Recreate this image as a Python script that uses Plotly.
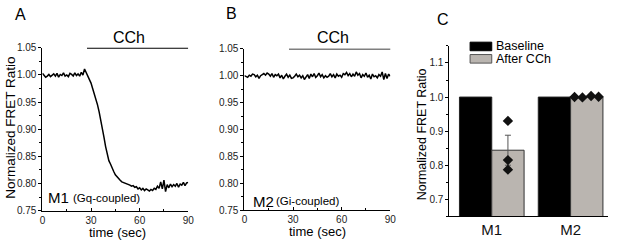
import plotly.graph_objects as go

# ---------------- data ----------------
time_sec = list(range(0, 91))

m1_ratio = [
    1.003, 1.000, 0.996, 0.998, 1.001, 0.997, 0.999, 1.002, 0.998, 1.003,
    0.996, 1.001, 0.999, 1.004, 0.998, 1.000, 0.997, 1.003, 1.001, 0.998,
    1.004, 0.999, 1.002, 0.998, 1.005, 1.000, 1.011, 1.004, 0.997, 0.993,
    0.985, 0.975, 0.966, 0.955, 0.945, 0.932, 0.918, 0.902, 0.885, 0.868,
    0.852, 0.842, 0.836, 0.828, 0.822, 0.816, 0.812, 0.808, 0.806, 0.803,
    0.802, 0.800, 0.799, 0.798, 0.797, 0.795, 0.796, 0.793, 0.794, 0.790,
    0.792, 0.788, 0.791, 0.787, 0.790, 0.788, 0.786, 0.789, 0.787, 0.791,
    0.789, 0.795, 0.791, 0.803, 0.790, 0.806, 0.785, 0.798, 0.792, 0.799,
    0.794, 0.798, 0.795, 0.800, 0.793, 0.799, 0.797, 0.802, 0.796, 0.801,
    0.802,
]

m2_ratio = [
    1.000, 0.998, 0.997, 1.001, 0.999, 1.003, 1.002, 0.998, 1.001, 0.995,
    1.000, 1.002, 1.004, 1.001, 1.005, 1.003, 0.999, 1.004, 0.997, 1.002,
    1.000, 1.003, 0.996, 1.001, 0.994, 0.999, 1.003, 0.997, 1.001, 0.995,
    0.996, 0.999, 1.003, 0.998, 1.001, 0.996, 1.000, 0.993, 0.999, 1.002,
    0.995, 1.003, 0.998, 1.004, 0.997, 1.000, 1.005, 0.998, 1.002, 0.996,
    1.000, 0.997, 0.999, 1.004, 0.998, 1.002, 0.996, 1.003, 0.999, 1.001,
    0.997, 1.004, 1.002, 1.006, 1.000, 1.004, 0.998, 1.003, 0.999, 1.007,
    1.001, 1.004, 0.996, 1.002, 0.999, 1.005, 0.997, 1.001, 0.994, 1.003,
    0.998, 1.000, 0.996, 1.002, 0.999, 1.007, 0.993, 1.004, 0.995, 1.003,
    0.999,
]

cch_start = 27.5
cch_end = 90

receptors = ["M1", "M2"]
baseline_means = [1.0, 1.0]
after_means = [0.844, 1.001]
after_sem = [0.044, 0.001]
m1_after_points = [0.930, 0.815, 0.787]
m2_after_points = [1.000, 0.999, 1.003, 1.001]

y_ticks_trace = [0.75, 0.80, 0.85, 0.90, 0.95, 1.00, 1.05]
x_ticks_trace = [0, 30, 60, 90]
y_ticks_bar = [0.7, 0.8, 0.9, 1.0, 1.1]

# ---------------- layout helpers ----------------
W, H = 617, 248
FONT = "Arial, 'Liberation Sans', sans-serif"
GRAY = "#bab5b0"


def px(x):
    return x / W


def py(y):
    return 1 - y / H


fig = go.Figure()

# Panel A trace
fig.add_trace(go.Scatter(x=time_sec, y=m1_ratio, mode="lines",
                         line=dict(color="black", width=1.5),
                         xaxis="x", yaxis="y", showlegend=False))
# Panel B trace
fig.add_trace(go.Scatter(x=time_sec, y=m2_ratio, mode="lines",
                         line=dict(color="black", width=1.5),
                         xaxis="x2", yaxis="y2", showlegend=False))

# Panel C bars
cat_idx = list(range(len(receptors)))
fig.add_trace(go.Bar(x=cat_idx, y=baseline_means, name="Baseline",
                     marker=dict(color="black", line=dict(color="#222", width=1)),
                     xaxis="x3", yaxis="y3", showlegend=False))
fig.add_trace(go.Bar(x=cat_idx, y=after_means, name="After CCh",
                     marker=dict(color=GRAY, line=dict(color="#333", width=1)),
                     error_y=dict(type="data", array=after_sem, color="#555",
                                  thickness=1, width=3),
                     xaxis="x3", yaxis="y3", showlegend=False))

bar_off = 0.205
m1_x = [cat_idx[0] + bar_off] * len(m1_after_points)
spread = [-0.155, -0.055, 0.055, 0.15]
m2_x = [cat_idx[1] + bar_off + s for s in spread]
fig.add_trace(go.Scatter(x=m2_x, y=m2_after_points, mode="lines",
                         line=dict(color="#111", width=1),
                         xaxis="x3", yaxis="y3", showlegend=False))
fig.add_trace(go.Scatter(x=m1_x + m2_x, y=m1_after_points + m2_after_points,
                         mode="markers",
                         marker=dict(symbol="diamond", size=8, color="#111"),
                         xaxis="x3", yaxis="y3", showlegend=False))

axis_common = dict(showline=True, linecolor="black", linewidth=1,
                   showgrid=False, zeroline=False, mirror=False,
                   tickfont=dict(family=FONT, size=10, color="#222"),
                   tickcolor="black")

fig.update_layout(
    width=W, height=H,
    margin=dict(l=0, r=0, t=0, b=0),
    paper_bgcolor="white", plot_bgcolor="white",
    font=dict(family=FONT, color="black"),
    barmode="group", bargap=0.18, bargroupgap=0,
    hovermode=False,
    xaxis=dict(domain=[px(40), px(188)], range=[0, 90], anchor="y",
               tickvals=x_ticks_trace, ticks="inside", ticklen=3,
               minor=dict(ticks="inside", ticklen=2, dtick=15, tick0=0),
               **axis_common),
    yaxis=dict(domain=[py(215), py(44)], range=[0.75, 1.05], anchor="x",
               tickvals=y_ticks_trace, tickformat=".2f", ticks="outside", ticklen=3,
               minor=dict(ticks="outside", ticklen=2, dtick=0.025, tick0=0.75),
               **axis_common),
    xaxis2=dict(domain=[px(245), px(393)], range=[0, 90], anchor="y2",
                tickvals=x_ticks_trace, ticks="inside", ticklen=3,
                minor=dict(ticks="inside", ticklen=2, dtick=15, tick0=0),
                **axis_common),
    yaxis2=dict(domain=[py(214.5), py(45)], range=[0.75, 1.05], anchor="x2",
                tickvals=y_ticks_trace, tickformat=".2f", ticks="outside", ticklen=3,
                minor=dict(ticks="outside", ticklen=2, dtick=0.025, tick0=0.75),
                **axis_common),
    xaxis3=dict(domain=[px(453), px(614)], range=[-0.5375, 1.475], anchor="y3",
                tickvals=cat_idx, ticktext=receptors, ticks="",
                showline=True, linecolor="black", linewidth=1, showgrid=False,
                zeroline=False, tickfont=dict(family=FONT, size=15, color="#111")),
    yaxis3=dict(domain=[py(221), py(42)], range=[0.65, 1.15], anchor="x3",
                tickvals=y_ticks_bar, tickformat=".1f", ticks="outside", ticklen=3,
                minor=dict(ticks="outside", ticklen=2, dtick=0.05, tick0=0.65),
                **axis_common),
)

# CCh bars
fig.add_shape(type="line", xref="x", yref="y", x0=cch_start, x1=cch_end,
              y0=1.05, y1=1.05, line=dict(color="black", width=1.6))
fig.add_shape(type="line", xref="x2", yref="y2", x0=cch_start, x1=cch_end + 0.6,
              y0=1.05, y1=1.05, line=dict(color="black", width=1.6))

# Legend in panel C (drawn)
fig.add_shape(type="rect", xref="paper", yref="paper",
              x0=px(474), x1=px(496), y0=py(47), y1=py(38),
              fillcolor="black", line=dict(color="black", width=1))
fig.add_shape(type="rect", xref="paper", yref="paper",
              x0=px(474), x1=px(496), y0=py(60), y1=py(51),
              fillcolor=GRAY, line=dict(color="#555", width=1))


def ann(text, x, y, size, xanchor="center", yanchor="middle", angle=0, color="black"):
    fig.add_annotation(text=text, x=px(x), y=py(y), xref="paper", yref="paper",
                       xanchor=xanchor, yanchor=yanchor, showarrow=False,
                       textangle=angle, borderpad=0,
                       font=dict(family=FONT, size=size, color=color))


ann("Baseline", 499, 42, 12.5, xanchor="left")
ann("After CCh", 499, 56, 12.5, xanchor="left")

# panel letters
ann("A", 18, 9, 16)
ann("B", 232, 8, 16)
ann("C", 447, 14, 16)

# CCh labels
ann("CCh", 128, 33, 16)
ann("CCh", 335, 33, 16)

# axis titles
ann("Normalized FRET Ratio", 8, 128, 13.5, angle=-90)
ann("Normalized FRET Ratio", 426, 135, 12.5, angle=-90)
ann("time (sec)", 116, 237.5, 13)
ann("time (sec)", 319, 237, 13)

# receptor labels
ann("M1", 45, 201, 15, xanchor="left")
ann("(Gq-coupled)", 70, 202, 11.5, xanchor="left")
ann("M2", 253, 205, 15, xanchor="left")
ann("(Gi-coupled)", 276, 205, 11.5, xanchor="left")

fig.write_html("out.html", config={"displayModeBar": False, "staticPlot": True},
               post_script="document.body.style.margin='0';")
